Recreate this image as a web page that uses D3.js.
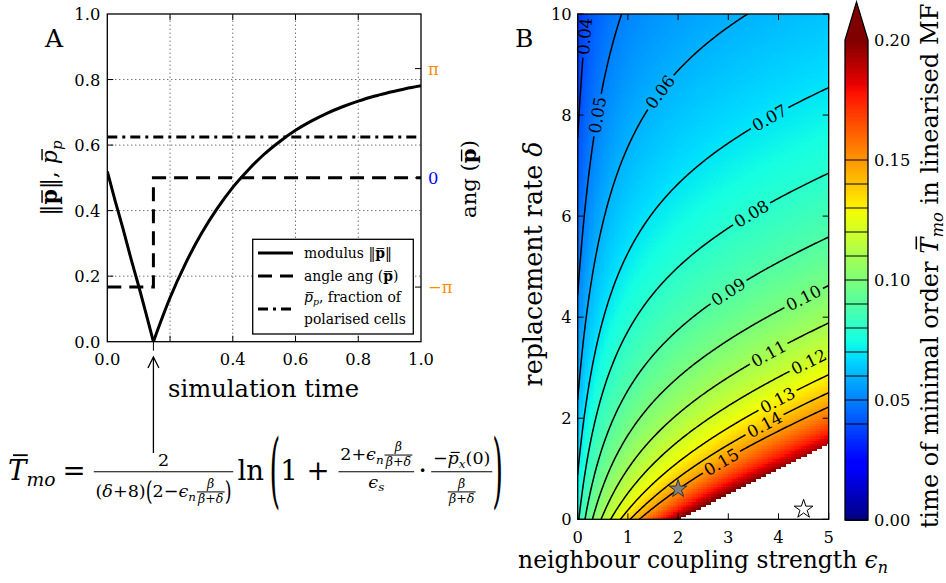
<!DOCTYPE html>
<html>
<head>
<meta charset="utf-8">
<script src="https://cdn.jsdelivr.net/npm/d3@7"></script>
<style>
  body { margin: 0; background: #fff; }
  svg { display: block; font-family: "DejaVu Serif", serif; }
  svg text { fill: #000; white-space: pre; }
</style>
</head>
<body>
<svg id="fig" width="946" height="583"></svg>
<script>
// ---------------- data ----------------
// Panel A: time course of the mean polarisation
const simTime = [0, 0.025, 0.05, 0.075, 0.1, 0.125, 0.147, 0.175, 0.2, 0.25, 0.3, 0.35, 0.4, 0.45,
                 0.5, 0.55, 0.6, 0.65, 0.7, 0.75, 0.8, 0.85, 0.9, 0.95, 1.0];
const modulus = [0.52, 0.43, 0.345, 0.255, 0.17, 0.08, 0.0, 0.073, 0.134, 0.24, 0.33, 0.406, 0.471, 0.525,
                 0.572, 0.611, 0.645, 0.673, 0.697, 0.717, 0.734, 0.749, 0.761, 0.772, 0.781];
const angleTime = [0, 0.147, 0.147, 1.0];
const angleValue = [-Math.PI, -Math.PI, 0, 0];
const polarisedFraction = 0.625;
const tMinimalOrder = 0.147;
const xTicksA = [0.2, 0.4, 0.6, 0.8];
const xTickLabelsA = [0, 0.4, 0.6, 0.8, 1.0];
const yTicksA = [0, 0.2, 0.4, 0.6, 0.8, 1.0];
const angleTicks = [-Math.PI, 0, Math.PI];
const angleTickLabels = ["\u2212\u03c0", "0", "\u03c0"];
const angleTickColours = ["#ff8c00", "#0000ff", "#ff8c00"];

// Panel B: linearised mean-field time of minimal order
const beta = 1;            // polarisation rate
const neighbours = 8;      // lattice neighbours
const initK = 0.5;         // initial-state factor c(eps) = 1 - initK / (eps + initG)
const initG = 0.88;
const epsDomain = [0, 5];
const deltaDomain = [0, 10];
const cellStep = 0.05;
const contourLevels = [0.04, 0.05, 0.06, 0.07, 0.08, 0.09, 0.10, 0.11, 0.12, 0.13, 0.14, 0.15];
const colourMax = 0.2;
const xTicksB = [0, 1, 2, 3, 4, 5];
const yTicksB = [0, 2, 4, 6, 8, 10];
const cbarTicks = [0, 0.05, 0.10, 0.15, 0.20];
const simulatedPoint = [2, 0.6];
const referencePoint = [4.5, 0.2];

// time of minimal order for coupling eps and replacement rate delta
function minimalOrderTime(eps, delta) {
  const a = beta / (beta + delta);
  const x = 2 - eps * a;
  if (x <= 0) return NaN;
  const c = 1 - initK / (eps + initG);
  return 2 / ((delta + neighbours) * x) * Math.log(1 + x * c);
}

// ---------------- helpers ----------------
const svg = d3.select("#fig");

// font size at which `str` spans `width` pixels
function sizeFor(str, width) {
  const t = svg.append("text").attr("font-size", 20).text(str);
  const w = t.node().getComputedTextLength();
  t.remove();
  return 20 * width / w;
}

// lay out a row of text pieces (plain, italic, bold, subscript, overline, fractions, tall brackets)
function hbox(parent, items, fs) {
  const g = parent.append("g");
  let x = 0;
  items.forEach(raw => {
    const it = (typeof raw === "string") ? { t: raw } : raw;
    if (it.sp !== undefined) { x += it.sp * fs; return; }
    if (it.frac) {
      const f = it.fs || fs;
      const axis = -0.3 * fs;
      const num = hbox(g, it.frac[0], f), den = hbox(g, it.frac[1], f);
      const pad = 0.1 * f;
      const w = Math.max(num.w, den.w) + 2 * pad;
      num.g.attr("transform", `translate(${x + (w - num.w) / 2},${axis - (it.nd || 0.3) * f})`);
      den.g.attr("transform", `translate(${x + (w - den.w) / 2},${axis + (it.dd || 0.9) * f})`);
      g.append("line").attr("x1", x).attr("x2", x + w).attr("y1", axis).attr("y2", axis)
        .attr("stroke", "#000").attr("stroke-width", Math.max(0.8, f * 0.06));
      x += w;
      return;
    }
    if (it.big) {
      const t = g.append("text").text(it.big).attr("font-size", fs)
        .attr("transform", `translate(${x},${-0.3 * fs}) scale(1,${it.k})`)
        .attr("y", 0.315 * fs);
      x += t.node().getComputedTextLength();
      return;
    }
    const f = it.sub ? fs * 0.68 : fs;
    const y = it.sub ? fs * 0.22 : 0;
    const t = g.append("text").attr("x", x).attr("y", y).attr("font-size", f).text(it.t);
    if (it.i) t.attr("font-style", "italic");
    if (it.b) t.attr("font-weight", "bold");
    if (it.c) t.style("fill", it.c);
    const w = t.node().getComputedTextLength();
    if (it.ol) {
      const h = it.olh || 0.68;
      const sh = it.i ? f * 0.1 : 0;
      g.append("line").attr("x1", x + w * 0.12 + sh).attr("x2", x + w * 0.92 + sh)
        .attr("y1", y - f * h).attr("y2", y - f * h)
        .attr("stroke", "#000").attr("stroke-width", Math.max(0.8, f * 0.065));
    }
    x += w;
  });
  return { g, w: x };
}

// rich label whose size is set so that it spans `len` pixels along its baseline
function fittedLabel(parent, items, len, cx, cy, rot) {
  const probe = hbox(parent, items, 20);
  const fs = 20 * len / probe.w;
  probe.g.remove();
  const b = hbox(parent, items, fs);
  b.g.attr("transform", `translate(${cx},${cy}) rotate(${rot}) translate(${-b.w / 2},0)`);
  return b;
}

const tickFont = sizeFor("0.8", 26);
const legendFont = sizeFor("polarised cells", 102);
const contourFont = sizeFor("0.07", 37);

// ---------------- panel A ----------------
const xA = d3.scaleLinear().domain([0, 1]).range([107.3, 421]);
const yA = d3.scaleLinear().domain([0, 1]).range([341.7, 14]);
const yAng = d3.scaleLinear().domain([-1.5 * Math.PI, 1.5 * Math.PI]).range([341.7, 14]);
const gA = svg.append("g");

svg.append("clipPath").attr("id", "clipA").append("rect")
  .attr("x", xA(0)).attr("y", yA(1)).attr("width", xA(1) - xA(0)).attr("height", yA(0) - yA(1));

// dotted grid
gA.append("g").selectAll("line").data(xTicksA).join("line")
  .attr("x1", d => xA(d)).attr("x2", d => xA(d)).attr("y1", yA(0)).attr("y2", yA(1))
  .attr("stroke", "#000").attr("stroke-width", 0.8).attr("stroke-dasharray", "1,3");
gA.append("g").selectAll("line").data([0.2, 0.4, 0.6, 0.8]).join("line")
  .attr("x1", xA(0)).attr("x2", xA(1)).attr("y1", d => yA(d)).attr("y2", d => yA(d))
  .attr("stroke", "#000").attr("stroke-width", 0.8).attr("stroke-dasharray", "1,3");

const linesA = gA.append("g").attr("clip-path", "url(#clipA)");
const modPts = simTime.map((t, i) => [t, modulus[i]]);
const lineMod = d3.line().x(d => xA(d[0])).y(d => yA(d[1])).curve(d3.curveMonotoneX);
linesA.append("path").attr("d", lineMod(modPts.filter(d => d[0] <= tMinimalOrder)))
  .attr("fill", "none").attr("stroke", "#000").attr("stroke-width", 3);
linesA.append("path").attr("d", lineMod(modPts.filter(d => d[0] >= tMinimalOrder)))
  .attr("fill", "none").attr("stroke", "#000").attr("stroke-width", 3);
const angPts = angleTime.map((t, i) => [t, angleValue[i]]);
linesA.append("path")
  .attr("d", d3.line().x(d => xA(d[0])).y(d => yAng(d[1]))(angPts))
  .attr("fill", "none").attr("stroke", "#000").attr("stroke-width", 3)
  .attr("stroke-dasharray", "14,8");
linesA.append("path")
  .attr("d", d3.line().x(d => xA(d[0])).y(d => yA(d[1]))([[0, polarisedFraction], [1, polarisedFraction]]))
  .attr("fill", "none").attr("stroke", "#000").attr("stroke-width", 3)
  .attr("stroke-dasharray", "10,5,3,5");

// frame and ticks
gA.append("rect").attr("x", xA(0)).attr("y", yA(1)).attr("width", xA(1) - xA(0)).attr("height", yA(0) - yA(1))
  .attr("fill", "none").attr("stroke", "#000").attr("stroke-width", 1.3);
const tickA = gA.append("g").attr("stroke", "#000").attr("stroke-width", 1);
xTicksA.forEach(t => {
  tickA.append("line").attr("x1", xA(t)).attr("x2", xA(t)).attr("y1", yA(0)).attr("y2", yA(0) - 6);
  tickA.append("line").attr("x1", xA(t)).attr("x2", xA(t)).attr("y1", yA(1)).attr("y2", yA(1) + 6);
});
[0.2, 0.4, 0.6, 0.8].forEach(t => {
  tickA.append("line").attr("x1", xA(0)).attr("x2", xA(0) + 6).attr("y1", yA(t)).attr("y2", yA(t));
});
angleTicks.forEach(t => {
  tickA.append("line").attr("x1", xA(1)).attr("x2", xA(1) - 6).attr("y1", yAng(t)).attr("y2", yAng(t));
});
tickA.append("line").attr("x1", xA(tMinimalOrder)).attr("x2", xA(tMinimalOrder))
  .attr("y1", yA(0)).attr("y2", yA(0) + 9);

// tick labels
gA.append("g").selectAll("text").data(xTickLabelsA).join("text")
  .attr("x", d => xA(d)).attr("y", 365).attr("text-anchor", "middle").attr("font-size", tickFont)
  .text(d => d.toFixed(1));
gA.append("g").selectAll("text").data(yTicksA).join("text")
  .attr("x", xA(0) - 7).attr("y", d => yA(d) + 6).attr("text-anchor", "end").attr("font-size", tickFont)
  .text(d => d.toFixed(1));
gA.append("g").selectAll("text").data(angleTicks).join("text")
  .attr("x", xA(1) + 7).attr("y", d => yAng(d) + 6).attr("font-size", tickFont)
  .style("fill", (d, i) => angleTickColours[i]).text((d, i) => angleTickLabels[i]);

// arrow marking the time of minimal order
const arrowX = xA(tMinimalOrder);
gA.append("line").attr("x1", arrowX).attr("x2", arrowX).attr("y1", 453).attr("y2", 357)
  .attr("stroke", "#000").attr("stroke-width", 1.3);
gA.append("path").attr("d", `M${arrowX - 5.5},368 L${arrowX},357 L${arrowX + 5.5},368`)
  .attr("fill", "none").attr("stroke", "#000").attr("stroke-width", 1.3);

// axis labels
fittedLabel(gA, ["simulation time"], 191, 263.5, 397, 0);
fittedLabel(gA, ["\u2016", { t: "p", b: true, ol: true }, "\u2016, ", { t: "p", i: true, ol: true }, { t: "p", i: true, sub: true }],
  75, 57, 178, -90);
fittedLabel(gA, ["ang (", { t: "p", b: true, ol: true }, ")"], 78, 476, 179, -90);
gA.append("text").attr("x", 45).attr("y", 47).attr("font-size", 25).text("A");

// legend
const lg = gA.append("g");
lg.append("rect").attr("x", 252.7).attr("y", 239.3).attr("width", 160.6).attr("height", 94.7)
  .attr("fill", "#fff").attr("stroke", "#000").attr("stroke-width", 1.3);
const legendRows = [
  { y: 253, dash: null, items: ["modulus \u2016", { t: "p", b: true, ol: true }, "\u2016"] },
  { y: 276, dash: "14,8", items: ["angle ang (", { t: "p", b: true, ol: true }, ")"] },
  { y: 309, dash: "10,5,3,5", items: null }
];
legendRows.forEach(r => {
  const l = lg.append("line").attr("x1", 258).attr("x2", 293).attr("y1", r.y).attr("y2", r.y)
    .attr("stroke", "#000").attr("stroke-width", 3);
  if (r.dash) l.attr("stroke-dasharray", r.dash);
  if (r.items) {
    const b = hbox(lg, r.items, legendFont);
    b.g.attr("transform", `translate(304,${r.y + 5})`);
  }
});
hbox(lg, [{ t: "p", i: true, ol: true }, { t: "p", i: true, sub: true }, ", fraction of"], legendFont).g
  .attr("transform", "translate(304,302)");
hbox(lg, ["polarised cells"], legendFont).g.attr("transform", "translate(304,324)");

// formula for the time of minimal order
const smallFrac = { frac: [[{ t: "\u03b2", i: true }], [{ t: "\u03b2", i: true }, "+", { t: "\u03b4", i: true }]], fs: 10 };
const formula = hbox(svg, [
  { t: "T", i: true, ol: true, olh: 0.9 }, { t: "mo", i: true, sub: true }, { sp: 0.25 }, "=", { sp: 0.3 },
  { frac: [["2"], ["(", { t: "\u03b4", i: true }, "+8)", { big: "(", k: 1.5 }, "2\u2212", { t: "\u03f5", i: true },
      { t: "n", i: true, sub: true }, { sp: 0.05 }, smallFrac, { big: ")", k: 1.5 }]], fs: 14, dd: 1.45 },
  { sp: 0.15 }, "ln", { sp: 0.2 }, { big: "(", k: 3.0 }, "1 + ",
  { frac: [["2+", { t: "\u03f5", i: true }, { t: "n", i: true, sub: true }, { sp: 0.05 }, smallFrac],
           [{ t: "\u03f5", i: true }, { t: "s", i: true, sub: true }]], fs: 14, nd: 0.65 },
  { sp: 0.15 }, "\u00b7", { sp: 0.15 },
  { frac: [["\u2212", { t: "p", i: true, ol: true }, { t: "x", i: true, sub: true }, "(0)"], [smallFrac]],
    fs: 14, nd: 0.42, dd: 1.45 },
  { big: ")", k: 3.0 }
], 22);
const fScale = 495 / formula.w;
formula.g.attr("transform", `translate(8,480) scale(${fScale})`);

// ---------------- panel B ----------------
const xB = d3.scaleLinear().domain(epsDomain).range([577.7, 828.7]);
const yB = d3.scaleLinear().domain(deltaDomain).range([519.3, 14]);
const gB = svg.append("g");

const jetR = d3.scaleLinear().domain([0, 0.35, 0.66, 0.89, 1]).range([0, 0, 1, 1, 0.5]).clamp(true);
const jetG = d3.scaleLinear().domain([0, 0.125, 0.375, 0.64, 0.91, 1]).range([0, 0, 1, 1, 0, 0]).clamp(true);
const jetB = d3.scaleLinear().domain([0, 0.11, 0.34, 0.65, 1]).range([0.5, 1, 1, 0, 0]).clamp(true);
const colourScale = d3.scaleLinear().domain([0, colourMax]).range([0, 1]);
function jet(v) {
  const t = v > colourMax ? 1 : colourScale(v);
  return d3.rgb(jetR(t) * 255, jetG(t) * 255, jetB(t) * 255).formatHex();
}

// heat map cells
const nCol = Math.round((epsDomain[1] - epsDomain[0]) / cellStep);
const nRow = Math.round((deltaDomain[1] - deltaDomain[0]) / cellStep);
const cells = [];
for (let j = 0; j < nRow; j++) {
  for (let i = 0; i < nCol; i++) {
    const e = epsDomain[0] + i * cellStep, d = deltaDomain[0] + j * cellStep;
    const v = minimalOrderTime(e + cellStep / 2, d + cellStep / 2);
    if (!isNaN(v)) cells.push({ e, d, v });
  }
}
gB.append("g").attr("shape-rendering", "crispEdges").selectAll("rect").data(cells).join("rect")
  .attr("x", c => xB(c.e)).attr("y", c => yB(c.d + cellStep))
  .attr("width", xB(cellStep) - xB(0) + 0.4).attr("height", yB(0) - yB(cellStep) + 0.4)
  .attr("fill", c => jet(c.v));

// contour lines on a finer grid that reaches a little past the frame
const gE0 = -0.1, gEs = 0.02, gD0 = -0.2, gDs = 0.04;
const gnx = 261, gny = 261;
const gridVals = new Array(gnx * gny);
for (let j = 0; j < gny; j++) {
  for (let i = 0; i < gnx; i++) {
    const e = Math.min(Math.max(gE0 + i * gEs, 0), 5), d = Math.min(Math.max(gD0 + j * gDs, 0), 10);
    const v = minimalOrderTime(e, d);
    gridVals[j * gnx + i] = isNaN(v) ? 1 : v;
  }
}
const contours = d3.contours().size([gnx, gny]).thresholds(contourLevels)(gridVals);
const gx = u => xB(gE0 + (u - 0.5) * gEs);
const gy = u => yB(gD0 + (u - 0.5) * gDs);
const cPath = d3.geoPath(d3.geoTransform({ point: function (x, y) { this.stream.point(gx(x), gy(y)); } }));

svg.append("clipPath").attr("id", "clipB").append("rect")
  .attr("x", xB(0)).attr("y", yB(10)).attr("width", xB(5) - xB(0)).attr("height", yB(0) - yB(10));
const defs = svg.append("defs");
const mask = defs.append("mask").attr("id", "labelGaps").attr("maskUnits", "userSpaceOnUse")
  .attr("x", 0).attr("y", 0).attr("width", 946).attr("height", 583);
mask.append("rect").attr("width", 946).attr("height", 583).attr("fill", "#fff");

gB.append("g").attr("clip-path", "url(#clipB)").append("g").attr("mask", "url(#labelGaps)")
  .selectAll("path").data(contours).join("path")
  .attr("d", cPath).attr("fill", "none").attr("stroke", "#000").attr("stroke-width", 1.5);

// inline contour labels
const labelSpots = [[0.17, 9.55], [0.51, 8.0], [1.77, 8.36], [3.81, 7.97], [3.47, 6.05], [3.0, 4.5],
                    [4.5, 4.4], [3.81, 3.28], [4.61, 3.12], [3.97, 2.36], [3.71, 1.90], [2.84, 1.17]];
const lblG = gB.append("g");
contours.forEach((c, li) => {
  const tx = xB(labelSpots[li][0]), ty = yB(labelSpots[li][1]);
  let best = null;
  c.coordinates.forEach(poly => poly.forEach(ring => {
    const pts = ring.map(p => [gx(p[0]), gy(p[1])]);
    pts.forEach((p, k) => {
      if (p[0] < xB(0) + 2 || p[0] > xB(5) - 2 || p[1] < yB(10) + 2 || p[1] > yB(0) - 2) return;
      const dd = (p[0] - tx) ** 2 + (p[1] - ty) ** 2;
      if (!best || dd < best.dd) best = { pts, k, dd };
    });
  }));
  if (!best) return;
  const n = best.pts.length - 1;
  const p0 = best.pts[(best.k - 4 + n) % n], p1 = best.pts[(best.k + 4) % n], pc = best.pts[best.k];
  let ang = Math.atan2(p1[1] - p0[1], p1[0] - p0[0]) * 180 / Math.PI;
  if (ang > 90) ang -= 180;
  if (ang <= -90) ang += 180;
  const t = lblG.append("text").attr("font-size", contourFont).attr("text-anchor", "middle").attr("dy", "0.36em")
    .attr("transform", `translate(${pc[0]},${pc[1]}) rotate(${ang})`)
    .text(contourLevels[li].toFixed(2));
  const w = t.node().getComputedTextLength() + 6;
  const h = contourFont * 0.9;
  mask.append("rect").attr("x", -w / 2).attr("y", -h / 2).attr("width", w).attr("height", h).attr("fill", "#000")
    .attr("transform", `translate(${pc[0]},${pc[1]}) rotate(${ang})`);
});

// marked parameter points
gB.append("path").attr("d", d3.symbol(d3.symbolStar, 100)())
  .attr("transform", `translate(${xB(simulatedPoint[0])},${yB(simulatedPoint[1])})`)
  .attr("fill", "#808080").attr("stroke", "#333").attr("stroke-width", 1);
gB.append("path").attr("d", d3.symbol(d3.symbolStar, 110)())
  .attr("transform", `translate(${xB(referencePoint[0])},${yB(referencePoint[1])})`)
  .attr("fill", "#fff").attr("stroke", "#000").attr("stroke-width", 1);

// frame, ticks, labels
gB.append("rect").attr("x", xB(0)).attr("y", yB(10)).attr("width", xB(5) - xB(0)).attr("height", yB(0) - yB(10))
  .attr("fill", "none").attr("stroke", "#000").attr("stroke-width", 1.3);
const tickB = gB.append("g").attr("stroke", "#000").attr("stroke-width", 1);
xTicksB.forEach(t => {
  tickB.append("line").attr("x1", xB(t)).attr("x2", xB(t)).attr("y1", yB(0)).attr("y2", yB(0) - 6);
  tickB.append("line").attr("x1", xB(t)).attr("x2", xB(t)).attr("y1", yB(10)).attr("y2", yB(10) + 6);
});
yTicksB.forEach(t => {
  tickB.append("line").attr("x1", xB(0)).attr("x2", xB(0) + 6).attr("y1", yB(t)).attr("y2", yB(t));
  tickB.append("line").attr("x1", xB(5)).attr("x2", xB(5) - 6).attr("y1", yB(t)).attr("y2", yB(t));
});
gB.append("g").selectAll("text").data(xTicksB).join("text")
  .attr("x", d => xB(d)).attr("y", 543).attr("text-anchor", "middle").attr("font-size", tickFont).text(d => d);
gB.append("g").selectAll("text").data(yTicksB).join("text")
  .attr("x", xB(0) - 6).attr("y", d => yB(d) + 6).attr("text-anchor", "end").attr("font-size", tickFont).text(d => d);
fittedLabel(gB, ["neighbour coupling strength ", { t: "\u03f5", i: true }, { t: "n", i: true, sub: true }], 370, 703, 568, 0);
fittedLabel(gB, ["replacement rate ", { t: "\u03b4", i: true }], 245, 542, 264, -90);
gB.append("text").attr("x", 515).attr("y", 47).attr("font-size", 25).text("B");

// ---------------- colour bar ----------------
const cb = d3.scaleLinear().domain([0, colourMax]).range([520, 40]);
const cbX0 = 845, cbX1 = 868;
const cbG = svg.append("g");
const cbSteps = d3.range(0, colourMax, colourMax / 240);
cbG.append("g").attr("shape-rendering", "crispEdges").selectAll("rect").data(cbSteps).join("rect")
  .attr("x", cbX0).attr("width", cbX1 - cbX0).attr("y", d => cb(d + colourMax / 240))
  .attr("height", cb(0) - cb(colourMax / 240) + 0.5).attr("fill", d => jet(d + colourMax / 480));
cbG.append("path").attr("d", `M${cbX0},${cb(colourMax)} L${(cbX0 + cbX1) / 2},2 L${cbX1},${cb(colourMax)} Z`)
  .attr("fill", jet(1));
cbG.append("g").selectAll("line").data(contourLevels).join("line")
  .attr("x1", cbX0).attr("x2", cbX1).attr("y1", d => cb(d)).attr("y2", d => cb(d))
  .attr("stroke", "#000").attr("stroke-width", 1);
cbG.append("path")
  .attr("d", `M${cbX0},${cb(0)} L${cbX0},${cb(colourMax)} L${(cbX0 + cbX1) / 2},2 L${cbX1},${cb(colourMax)} L${cbX1},${cb(0)} Z`)
  .attr("fill", "none").attr("stroke", "#000").attr("stroke-width", 1.3);
cbG.append("g").selectAll("text").data(cbarTicks).join("text")
  .attr("x", cbX1 + 6).attr("y", d => cb(d) + 6).attr("font-size", tickFont).text(d => d.toFixed(2));
fittedLabel(cbG, ["time of minimal order ", { t: "T", i: true, ol: true, olh: 0.9 }, { t: "mo", i: true, sub: true },
  " in linearised MF"], 525, 938, 266, -90);
</script>
</body>
</html>
